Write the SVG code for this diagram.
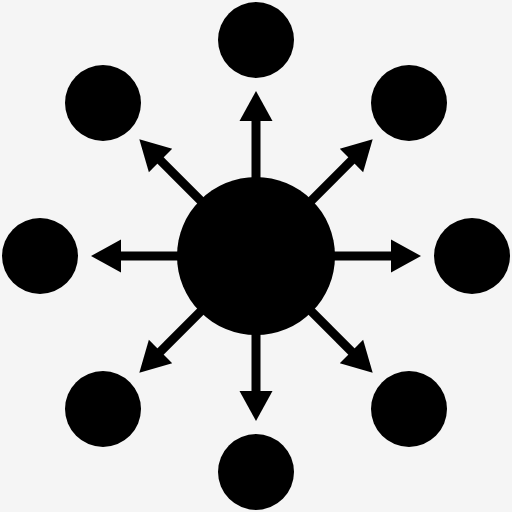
<svg xmlns="http://www.w3.org/2000/svg" width="512" height="512" viewBox="0 0 512 512">
<style>
.n{fill:#000}
.s{stroke:#000;stroke-width:9;fill:none}
.h{fill:#000}
</style>
<defs>
<g id="arr">
<line class="s" x1="256" y1="256" x2="256" y2="118"/>
<polygon class="h" points="256,91 272.5,121 239.5,121"/>
</g>
</defs>
<rect width="512" height="512" fill="#f5f5f5"/>
<g id="connectors">
<use href="#arr"/>
<use href="#arr" transform="rotate(45 256 256)"/>
<use href="#arr" transform="rotate(90 256 256)"/>
<use href="#arr" transform="rotate(135 256 256)"/>
<use href="#arr" transform="rotate(180 256 256)"/>
<use href="#arr" transform="rotate(225 256 256)"/>
<use href="#arr" transform="rotate(270 256 256)"/>
<use href="#arr" transform="rotate(315 256 256)"/>
</g>
<g id="center"><circle class="n" cx="256" cy="256" r="79"/></g>
<g id="n-top"><circle class="n" cx="256" cy="40" r="38"/></g>
<g id="n-tr"><circle class="n" cx="409" cy="103" r="38"/></g>
<g id="n-right"><circle class="n" cx="472" cy="256" r="38"/></g>
<g id="n-br"><circle class="n" cx="409" cy="409" r="38"/></g>
<g id="n-bottom"><circle class="n" cx="256" cy="472" r="38"/></g>
<g id="n-bl"><circle class="n" cx="103" cy="409" r="38"/></g>
<g id="n-left"><circle class="n" cx="40" cy="256" r="38"/></g>
<g id="n-tl"><circle class="n" cx="103" cy="103" r="38"/></g>
</svg>
